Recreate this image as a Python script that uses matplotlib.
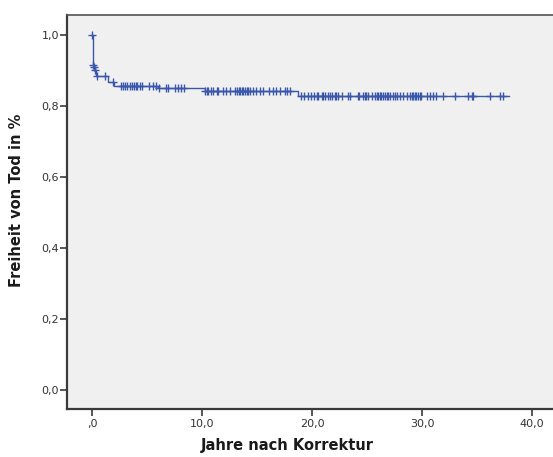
# Kaplan-Meier curve: freedom from death after repair


import numpy as np
import matplotlib
matplotlib.use('Agg')
import matplotlib.pyplot as plt

# times (years) where the survival estimate drops, and the level after each drop
step_times = [0.0, 0.05, 0.15, 0.25, 0.35, 1.40, 2.00, 6.00, 10.25, 18.70]
step_surv = [1.000, 0.915, 0.910, 0.901, 0.885, 0.868, 0.856, 0.850, 0.841, 0.827]
end_time = 37.9

# censored follow-up times (years)
censor_times = [0.0, 0.05, 0.15, 0.25, 0.40, 1.15, 1.90,
	2.6, 2.8, 3.0, 3.2, 3.4, 3.6, 3.8, 4.0, 4.1, 4.3, 4.5, 5.2, 5.5, 5.8,
	6.1, 6.7, 6.9, 7.5, 7.8, 8.1, 8.3,
	10.25, 10.4, 10.5, 10.8, 11.0, 11.3, 11.45, 11.9, 12.2, 12.5,
	13.0, 13.15, 13.3, 13.45, 13.6, 13.75, 13.9, 14.05, 14.2, 14.35,
	14.6, 14.9, 15.25, 15.5, 16.1, 16.45, 16.75, 17.1, 17.5, 17.7, 18.0,
	19.0, 19.3, 19.6, 19.9, 20.2, 20.4, 20.55, 20.85, 21.0, 21.15, 21.45,
	21.6, 21.76, 22.06, 22.2, 22.36, 22.67, 23.27, 23.4, 24.2, 24.3, 24.6,
	24.8, 24.9, 25.1, 25.4, 25.7, 25.85, 26.0, 26.15, 26.3, 26.45, 26.6,
	26.76, 26.9, 27.06, 27.36, 27.5, 27.67, 27.97, 28.27, 28.58, 28.88,
	29.04, 29.18, 29.34, 29.48, 29.64, 29.8, 29.94, 30.4, 30.7, 31.0,
	31.3, 31.9, 33.0, 34.2, 34.5, 34.6, 36.15, 37.05, 37.36]

x_ticks = [0, 10, 20, 30, 40]
x_ticklabels = [",0", "10,0", "20,0", "30,0", "40,0"]
y_ticks = [0.0, 0.2, 0.4, 0.6, 0.8, 1.0]
y_ticklabels = ["0,0", "0,2", "0,4", "0,6", "0,8", "1,0"]

line_color = '#3a57ab'
axis_color = '#3a3a3a'


def level_at(t):
	# survival estimate in effect at time t
	idx = np.searchsorted(step_times, t, side='right') - 1
	return np.array(step_surv)[idx]


def outputs():
	fig = plt.figure(figsize=(5.53, 4.57), dpi=100)
	ax = fig.add_axes([0.1217, 0.1044, 0.8783, 0.8628])
	ax.set_facecolor('#f0f0f0')

	xs = list(step_times) + [end_time]
	ys = list(step_surv) + [step_surv[-1]]
	ax.step(xs, ys, where='post', color=line_color, lw=1.0)
	ct = np.array(censor_times)
	ax.plot(ct, level_at(ct), ls='none', marker='+', ms=6, mew=1.0, color=line_color)

	ax.set_xlim(-2.27, 41.9)
	ax.set_ylim(-0.054, 1.056)
	ax.set_xticks(x_ticks)
	ax.set_xticklabels(x_ticklabels)
	ax.set_yticks(y_ticks)
	ax.set_yticklabels(y_ticklabels)
	ax.tick_params(direction='out', length=5, width=1.2, colors=axis_color,
		labelsize=8, labelcolor='#333333')
	ax.tick_params(axis='y', pad=1)
	ax.tick_params(axis='x', pad=2)

	for side in ['left', 'bottom']:
		ax.spines[side].set_color(axis_color)
		ax.spines[side].set_linewidth(1.6)
	ax.spines['top'].set_color('#555555')
	ax.spines['top'].set_linewidth(1.2)
	ax.spines['right'].set_visible(False)

	ax.set_xlabel("Jahre nach Korrektur", fontsize=10.5, fontweight='bold', color='#1a1a1a')
	ax.xaxis.set_label_coords(0.453, -0.072)
	ax.set_ylabel("Freiheit von Tod in %", fontsize=10.5, fontweight='bold', color='#1a1a1a')
	ax.yaxis.set_label_coords(-0.09, 0.53)

	fig.savefig('out.png', dpi=100)


if __name__ == "__main__":
	outputs()
